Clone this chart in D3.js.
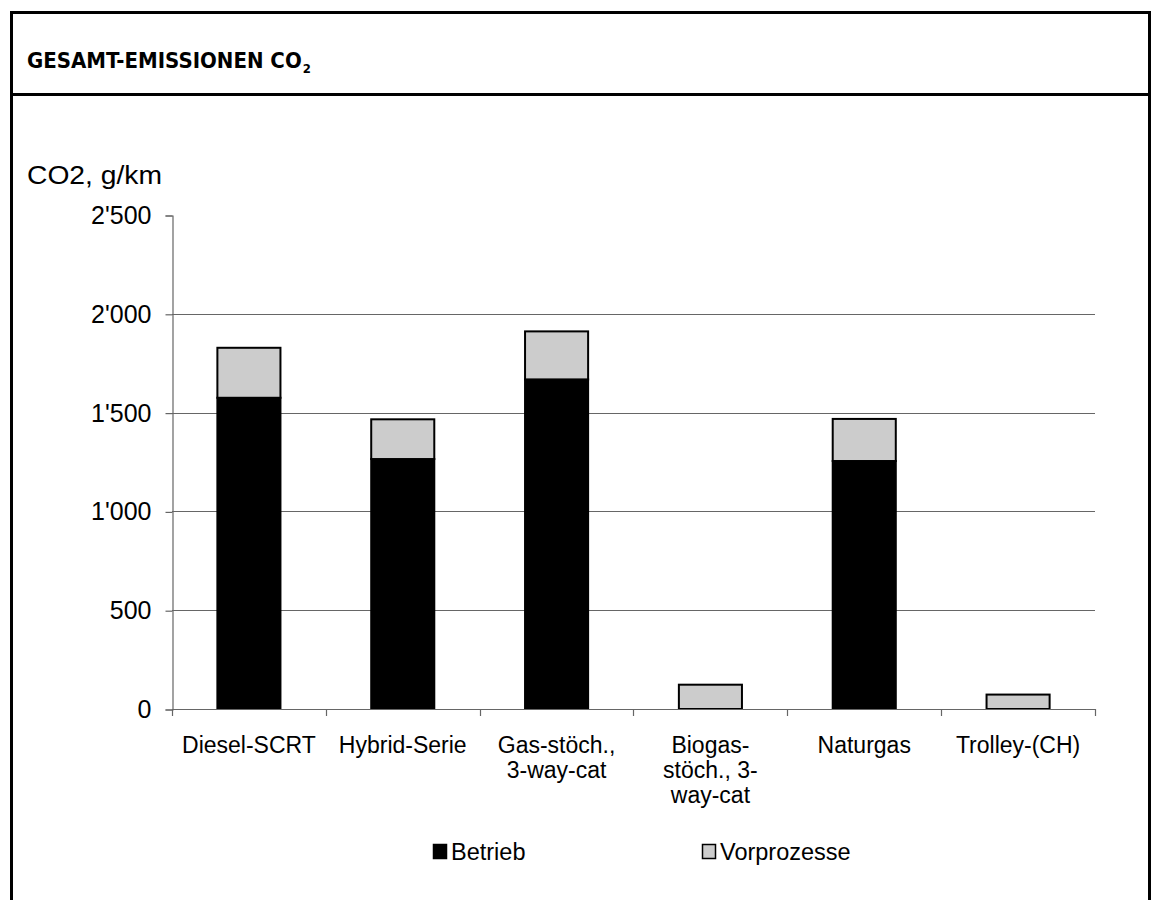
<!DOCTYPE html>
<html><head><meta charset="utf-8">
<script src="https://cdn.jsdelivr.net/npm/d3@7"></script>
<style>body{margin:0;background:#fff}svg{display:block}</style>
</head><body>
<svg id="c" width="1154" height="900"></svg>
<script>
const categories = ["Diesel-SCRT","Hybrid-Serie","Gas-stöch., 3-way-cat","Biogas-stöch., 3-way-cat","Naturgas","Trolley-(CH)"];
const categoryLines = [["Diesel-SCRT"],["Hybrid-Serie"],["Gas-stöch.,","3-way-cat"],["Biogas-","stöch., 3-","way-cat"],["Naturgas"],["Trolley-(CH)"]];
const betrieb = [1575, 1265, 1668, 0, 1255, 0];
const vorprozesse = [253, 201, 243, 123, 213, 73];
const seriesNames = ["Betrieb","Vorprozesse"];
const seriesColors = ["#000000","#cccccc"];
const yTicks = [0,500,1000,1500,2000,2500];
const yTickLabels = ["0","500","1'000","1'500","2'000","2'500"];

const svg = d3.select("#c");
const font = "'Liberation Sans', Arial, sans-serif";
const fs = 23;

// frame
svg.append("rect").attr("x",11.5).attr("y",12.5).attr("width",1138).attr("height",920)
  .attr("fill","none").attr("stroke","#000").attr("stroke-width",3);
svg.append("line").attr("x1",10).attr("x2",1151).attr("y1",94.5).attr("y2",94.5)
  .attr("stroke","#000").attr("stroke-width",3);
const t = svg.append("text").attr("x",27).attr("y",68)
  .attr("font-family","'DejaVu Sans Condensed', 'DejaVu Sans', sans-serif").attr("font-weight","bold")
  .attr("font-size",22).attr("fill","#000");
t.append("tspan").text("GESAMT-EMISSIONEN CO");
t.append("tspan").attr("font-size",13).attr("dy",5).attr("dx",1).text("2");

const y = d3.scaleLinear().domain([0,2500]).range([709,215]);
const x = d3.scaleBand().domain(categories).range([172,1095]).paddingInner(0.59).paddingOuter(0.295);
const step = x.step();

// gridlines
svg.append("g").selectAll("line").data(yTicks.filter(d=>d>0 && d<2500)).join("line")
  .attr("x1",172).attr("x2",1095).attr("y1",d=>Math.round(y(d))+0.5).attr("y2",d=>Math.round(y(d))+0.5)
  .attr("stroke","#666").attr("stroke-width",1.2);

// y axis
const yAxis = d3.axisLeft(y).tickValues(yTicks).tickFormat((d,i)=>yTickLabels[i]).tickSize(7).tickPadding(14);
const gy = svg.append("g").attr("transform","translate(172.5,0.5)").call(yAxis);
gy.select(".domain").attr("stroke","#666").attr("stroke-width",1.2);
gy.selectAll(".tick line").attr("stroke","#666").attr("stroke-width",1.2);
gy.selectAll(".tick text").attr("font-family",font).attr("font-size",25).attr("fill","#000");

svg.append("text").attr("x",27).attr("y",184).attr("font-family",font).attr("font-size",25)
  .attr("textLength",135).attr("lengthAdjust","spacingAndGlyphs").attr("fill","#000").text("CO2, g/km");

// stacked bars
const rows = categories.map((c,i)=>({cat:c, Betrieb:betrieb[i], Vorprozesse:vorprozesse[i]}));
const stack = d3.stack().keys(seriesNames)(rows);
svg.append("g").selectAll("g").data(stack).join("g")
  .attr("fill",(d,i)=>seriesColors[i])
  .selectAll("rect").data(d=>d.filter(s=>s[1]-s[0]>0)).join("rect")
  .attr("x",d=>x(d.data.cat)).attr("width",x.bandwidth())
  .attr("y",d=>y(d[1])).attr("height",d=>y(d[0])-y(d[1]))
  .attr("stroke","#000").attr("stroke-width",2);

// x axis
svg.append("line").attr("x1",172).attr("x2",1095).attr("y1",709.5).attr("y2",709.5)
  .attr("stroke","#666").attr("stroke-width",1.2);
const boundaries = categories.map(c=>x(c)-step*x.paddingInner()/2).concat([x(categories[categories.length-1])+x.bandwidth()+step*x.paddingInner()/2]);
svg.append("g").selectAll("line").data(boundaries).join("line")
  .attr("x1",d=>Math.round(d)+0.5).attr("x2",d=>Math.round(d)+0.5).attr("y1",709).attr("y2",716)
  .attr("stroke","#666").attr("stroke-width",1.2);
const labels = svg.append("g").selectAll("text").data(categories).join("text")
  .attr("x",d=>x(d)+x.bandwidth()/2).attr("y",753)
  .attr("text-anchor","middle").attr("font-family",font).attr("font-size",fs).attr("fill","#000");
labels.each(function(d,i){
  const sel = d3.select(this);
  categoryLines[i].forEach((ln,j)=>{
    sel.append("tspan").attr("x",x(d)+x.bandwidth()/2).attr("dy",j===0?0:25).text(ln);
  });
});

// legend
const legendX = [433, 702];
const lg = svg.append("g").selectAll("g").data(seriesNames).join("g")
  .attr("transform",(d,i)=>`translate(${legendX[i]},844)`);
lg.append("rect").attr("x",0.5).attr("y",0.5).attr("width",13).attr("height",14)
  .attr("fill",(d,i)=>seriesColors[i]).attr("stroke","#000").attr("stroke-width",1.5);
lg.append("text").attr("x",18).attr("y",16).attr("font-family",font).attr("font-size",23.5).attr("fill","#000").text(d=>d);
</script>
</body></html>
